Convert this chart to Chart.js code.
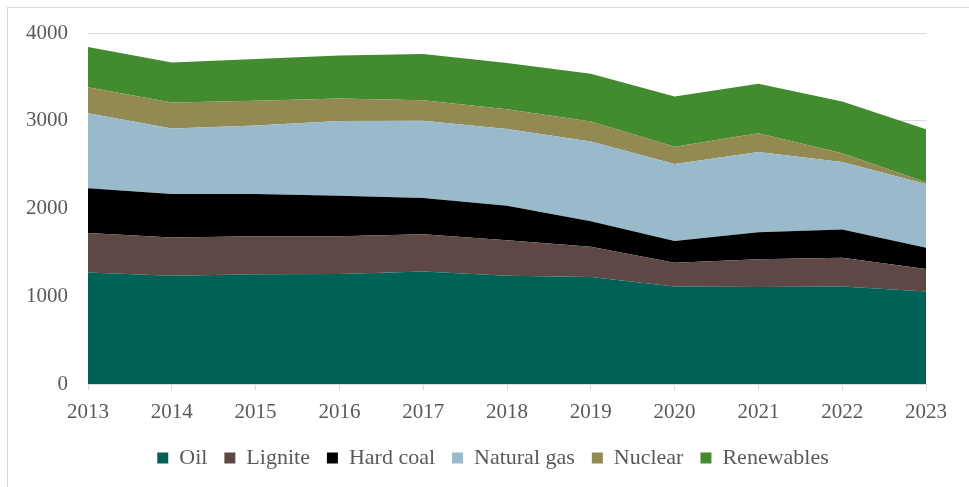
<!DOCTYPE html>
<html>
<head>
<meta charset="utf-8">
<script src="https://cdn.jsdelivr.net/npm/chart.js@4.4.1/dist/chart.umd.min.js"></script>
<style>
  html, body { margin: 0; padding: 0; background: #fff; }
  .wrap { position: relative; width: 969px; height: 487px; overflow: hidden; }
  .frame { position: absolute; left: 7px; top: 7px; width: 980px; height: 500px;
           border-left: 1px solid #d9d9d9; border-top: 1px solid #d9d9d9; }
  canvas { position: absolute; left: 0; top: 0; }
</style>
</head>
<body>
<div class="wrap">
  <div class="frame"></div>
  <canvas id="energyChart" width="969" height="487"></canvas>
</div>
<script>
// Energy consumption by source, stacked area

const years = ['2013','2014','2015','2016','2017','2018','2019','2020','2021','2022','2023'];

const oil        = [1270, 1235, 1250, 1253, 1283, 1235, 1220, 1112, 1105, 1112, 1055];
const lignite    = [452, 435, 434, 430, 423, 404, 343, 271, 317, 328, 255];
const hardCoal   = [510, 494, 480, 461, 415, 392, 293, 247, 308, 320, 244];
const naturalGas = [854, 747, 781, 854, 880, 876, 907, 876, 914, 769, 724];
const nuclear    = [297, 297, 282, 255, 233, 225, 228, 199, 214, 100, 22];
const renewables = [457, 457, 477, 491, 526, 526, 545, 571, 564, 589, 603];

const yTicks = [0, 1000, 2000, 3000, 4000];

const series = [
  { label: 'Oil', data: oil, color: '#006256' },
  { label: 'Lignite', data: lignite, color: '#5e4846' },
  { label: 'Hard coal', data: hardCoal, color: '#000000' },
  { label: 'Natural gas', data: naturalGas, color: '#99bacb' },
  { label: 'Nuclear', data: nuclear, color: '#938953' },
  { label: 'Renewables', data: renewables, color: '#428b2f' }
];

const font = { family: "'Liberation Serif', 'DejaVu Serif', serif", size: 21 };
const legendFont = { family: "'Liberation Serif', 'DejaVu Serif', serif", size: 22 };
const textColor = '#595959';
const gridColor = '#d9d9d9';

// nudge the legend right, the original centres it on the plot area
const legendShift = {
  id: 'legendShift',
  afterLayout(chart) {
    if (chart.legend) {
      chart.legend.left += 30;
      chart.legend.right += 30;
    }
  }
};

new Chart(document.getElementById('energyChart'), {
  type: 'line',
  data: {
    labels: years,
    datasets: series.map((s, i) => ({
      label: s.label,
      data: s.data,
      backgroundColor: s.color,
      borderColor: s.color,
      borderWidth: 0,
      pointRadius: 0,
      tension: 0,
      fill: i === 0 ? 'origin' : '-1'
    }))
  },
  plugins: [legendShift],
  options: {
    responsive: false,
    animation: false,
    layout: { padding: { top: 33, right: 43, bottom: 8, left: 0 } },
    plugins: {
      tooltip: { enabled: false },
      legend: {
        position: 'bottom',
        labels: {
          color: textColor, font: legendFont,
          boxWidth: 11, boxHeight: 11, padding: 17
        }
      }
    },
    scales: {
      x: {
        offset: false,
        grid: { color: gridColor, drawOnChartArea: false, tickLength: 6 },
        border: { color: gridColor },
        ticks: { color: textColor, font, padding: 10, maxRotation: 0, autoSkip: false },
        afterFit: scale => { scale.height = 46; }
      },
      y: {
        stacked: true,
        min: 0, max: 4000,
        afterBuildTicks: scale => { scale.ticks = yTicks.map(v => ({ value: v })); },
        grid: { color: gridColor, drawTicks: false },
        border: { display: false },
        ticks: { color: textColor, font, padding: 20, callback: v => String(v) },
        afterFit: scale => { scale.width = 88; }
      }
    }
  }
});
</script>
</body>
</html>
